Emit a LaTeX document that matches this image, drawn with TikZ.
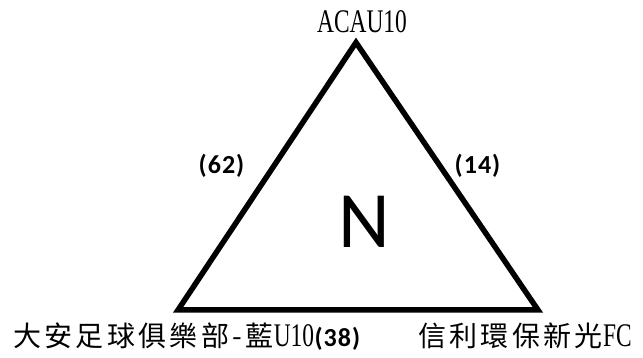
\documentclass[tikz,border=0pt]{standalone}
\usepackage{fontspec}
\usetikzlibrary{positioning}
\newfontfamily\cjkfont{Noto Sans CJK TC}[LetterSpace=12]
\newfontfamily\narrowserif{Liberation Serif}[FakeStretch=0.71]
\newfontfamily\scorefont{Carlito}[LetterSpace=4]

\begin{document}
\begin{tikzpicture}[x=1pt,y=-1pt,
  side/.style={line width=5.5pt,line join=miter},
  team/.style={inner sep=0pt,anchor=base west,font=\cjkfont\fontsize{28}{30}\selectfont},
  score/.style={inner sep=0pt,anchor=base,font=\scorefont\bfseries\fontsize{26}{28}\selectfont},
  latin/.style={inner sep=0pt,anchor=base,font=\narrowserif\fontsize{33}{35}\selectfont},
]
  \useasboundingbox (0,0) rectangle (643,358);
  % corners of the triangle
  \coordinate (top) at (356,42.5);
  \coordinate (left) at (178,310);
  \coordinate (right) at (538,310);
  \draw[side] (top) -- (right) -- (left) -- cycle;

  \node[latin] (acau) at (362,33) {ACAU10};
  \node[team] (daan) at (13,346) {大安足球俱樂部-藍{\narrowserif\fontsize{33}{35}\selectfont U10}};
  \node[score,anchor=base west] (s38) at (daan.base east) {(38)};
  \node[team] (shinli) at (418,346) {信利環保新光{\narrowserif\fontsize{33}{35}\selectfont FC}};

  \node[score] (s62) at (221.5,174) {(62)};
  \node[score] (s14) at (477.5,174) {(14)};
  \node[inner sep=0pt,anchor=base,font=\scorefont\fontsize{80}{84}\selectfont] (res) at (364,248) {N};
\end{tikzpicture}
\end{document}
